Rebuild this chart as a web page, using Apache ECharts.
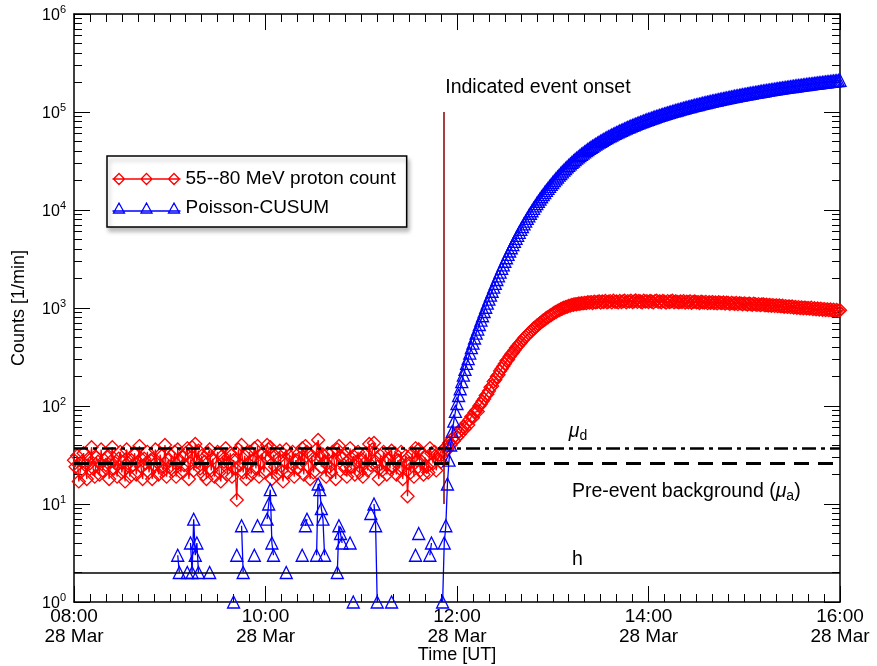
<!DOCTYPE html>
<html>
<head>
<meta charset="utf-8">
<script src="https://cdn.jsdelivr.net/npm/echarts@6/dist/echarts.min.js"></script>
<style>
html, body { margin: 0; padding: 0; background: #fff; }
#chart { width: 877px; height: 666px; }
</style>
</head>
<body>
<div id="chart"></div>
<script>
// one value per minute, 08:00 .. 16:00 (28 Mar)
const protonCounts = [
  28, 24, 31, 17, 22, 27, 33, 25, 18, 29, 26, 38, 23, 19, 30, 27, 20, 36, 22, 28,
  25, 30, 18, 27, 38, 23, 26, 19, 29, 34, 21, 27, 17, 36, 26, 19, 28, 25, 33, 20,
  27, 39, 24, 18, 29, 26, 34, 21, 28, 18, 25, 36, 27, 20, 32, 24, 22, 40, 19, 28,
  24, 31, 22, 34, 19, 36, 27, 21, 30, 25, 33, 37, 18, 26, 38, 22, 41, 27, 35, 23,
  31, 20, 27, 18, 33, 36, 22, 29, 19, 26, 34, 21, 17, 31, 27, 37, 20, 26, 33, 19,
  28, 23, 11, 36, 25, 40, 21, 31, 18, 26, 34, 20, 28, 37, 23, 39, 19, 27, 33, 21,
  30, 40, 36, 38, 18, 32, 24, 20, 29, 35, 22, 17, 27, 36, 21, 31, 24, 34, 19, 28,
  23, 33, 26, 37, 20, 39, 34, 24, 18, 31, 21, 28, 36, 45, 31, 24, 32, 27, 19, 33,
  24, 21, 34, 28, 18, 36, 39, 31, 29, 25, 23, 19, 28, 37, 24, 31, 20, 27, 34, 21,
  29, 19, 26, 33, 22, 41, 25, 36, 42, 27, 24, 18, 31, 22, 34, 27, 20, 29, 23, 35,
  24, 33, 20, 28, 23, 34, 18, 27, 31, 12, 26, 21, 33, 19, 37, 28, 36, 22, 27, 20,
  30, 24, 21, 37, 33, 26, 34, 22, 29, 32, 27, 35, 34, 38, 36, 42, 40, 46, 44, 50,
  48, 55, 52, 58, 61, 59, 67, 64, 73, 78, 76, 86, 90, 88, 100, 105, 112, 118, 128, 132,
  142, 155, 160, 178, 185, 200, 208, 228, 240, 255, 270, 290, 298, 320, 338, 352, 370, 392, 410, 428,
  445, 468, 490, 510, 528, 552, 570, 590, 618, 632, 660, 676, 700, 722, 745, 760, 790, 805, 830, 848,
  870, 895, 910, 935, 950, 972, 988, 1005, 1020, 1030, 1050, 1058, 1075, 1080, 1095, 1090, 1110, 1105, 1120, 1115,
  1130, 1120, 1145, 1135, 1150, 1125, 1160, 1140, 1155, 1170, 1135, 1165, 1150, 1180, 1145, 1160, 1175, 1140, 1185, 1155,
  1165, 1140, 1180, 1150, 1170, 1190, 1145, 1175, 1160, 1185, 1150, 1170, 1195, 1155, 1180, 1165, 1145, 1185, 1160, 1175,
  1150, 1180, 1165, 1140, 1175, 1190, 1155, 1170, 1145, 1180, 1160, 1135, 1175, 1150, 1165, 1185, 1145, 1170, 1155, 1140,
  1165, 1150, 1175, 1135, 1160, 1145, 1170, 1130, 1155, 1165, 1140, 1150, 1125, 1160, 1145, 1135, 1155, 1120, 1145, 1130,
  1150, 1125, 1140, 1115, 1145, 1130, 1120, 1140, 1110, 1135, 1125, 1100, 1130, 1115, 1105, 1125, 1095, 1120, 1110, 1090,
  1115, 1100, 1085, 1110, 1095, 1080, 1105, 1090, 1075, 1095, 1070, 1085, 1090, 1065, 1080, 1060, 1075, 1055, 1070, 1050,
  1065, 1045, 1060, 1040, 1055, 1030, 1045, 1025, 1040, 1020, 1035, 1010, 1025, 1005, 1020, 1000, 1015, 995, 1010, 990,
  1000, 985, 1005, 975, 995, 970, 990, 965, 985, 960, 975, 955, 970, 950, 965, 945, 960, 940, 955, 935,
  950
];

// Poisson-CUSUM statistic per minute (0 = nothing to draw on the log axis)
const cusumValues = [
  0, 0, 0, 0, 0, 0, 0, 0, 0, 0, 0, 0, 0, 0, 0, 0, 0, 0, 0, 0,
  0, 0, 0, 0, 0, 0, 0, 0, 0, 0, 0, 0, 0, 0, 0, 0, 0, 0, 0, 0,
  0, 0, 0, 0, 0, 0, 0, 0, 0, 0, 0, 0, 0, 0, 0, 0, 0, 0, 0, 0,
  0, 0, 0, 0, 0, 3, 2, 0, 0, 0, 0, 2, 0, 4, 2, 7, 3, 4, 2, 0,
  0, 0, 0, 0, 0, 2, 0, 0, 0, 0, 0, 0, 0, 0, 0, 0, 0, 0, 0, 0,
  1, 0, 3, 0, 0, 6, 2, 0, 0, 0, 0, 0, 0, 3, 0, 6, 0, 0, 0, 0,
  0, 7, 10, 14, 4, 3, 0, 0, 0, 0, 0, 0, 0, 2, 0, 0, 0, 0, 0, 0,
  0, 0, 0, 3, 0, 6, 7, 0, 0, 0, 0, 0, 3, 16, 14, 9, 7, 3, 0, 0,
  0, 0, 0, 0, 0, 2, 6, 5, 4, 0, 0, 0, 0, 4, 0, 1, 0, 0, 0, 0,
  0, 0, 0, 0, 0, 0, 8, 0, 10, 6, 1, 0, 0, 0, 0, 0, 0, 0, 0, 1,
  0, 0, 0, 0, 0, 0, 0, 0, 0, 0, 0, 0, 0, 0, 3, 0, 5, 0, 0, 0,
  0, 0, 0, 3, 4, 0, 0, 0, 0, 0, 0, 1, 4, 6, 16, 28, 40, 55, 70, 88,
  106, 128, 150, 177, 207, 236, 272, 305, 347, 394, 439, 494, 553, 610, 679, 753, 834, 921, 1018, 1119,
  1230, 1354, 1483, 1630, 1784, 1953, 2130, 2327, 2536, 2760, 2999, 3258, 3525, 3814, 4121, 4442, 4781, 5142, 5521, 5918,
  6332, 6769, 7228, 7707, 8204, 8725, 9264, 9823, 10410, 11011, 11640, 12285, 12954, 13645, 14359, 15088, 15847, 16621, 17420, 18237,
  19076, 19940, 20819, 21723, 22642, 23583, 24540, 25514, 26503, 27502, 28521, 29548, 30592, 31641, 32705, 33764, 34843, 35917, 37006, 38090,
  39189, 40278, 41392, 42496, 43615, 44709, 45838, 46947, 48071, 49210, 50314, 51448, 52567, 53716, 54830, 55959, 57103, 58212, 59366, 60490,
  61624, 62733, 63882, 65001, 66140, 67299, 68413, 69557, 70686, 71840, 72959, 74098, 75262, 76386, 77535, 78669, 79783, 80937, 82066, 83210,
  84329, 85478, 86612, 87721, 88865, 90024, 91148, 92287, 93401, 94550, 95679, 96783, 97927, 99046, 100180, 101334, 102448, 103587, 104711, 105820,
  106954, 108073, 109217, 110321, 111450, 112564, 113703, 114802, 115926, 117060, 118169, 119288, 120382, 121511, 122625, 123729, 124853, 125942, 127056, 128155,
  129274, 130368, 131477, 132561, 133675, 134774, 135863, 136972, 138051, 139155, 140249, 141318, 142417, 143501, 144575, 145669, 146733, 147822, 148901, 149960,
  151044, 152113, 153167, 154246, 155310, 156359, 157433, 158492, 159536, 160600, 161639, 162693, 163752, 164786, 165835, 166864, 167908, 168932, 169971, 170990,
  172024, 173038, 174067, 175076, 176100, 177099, 178113, 179107, 180116, 181105, 182109, 183088, 184082, 185056, 186045, 187014, 187998, 188962, 189941, 190900,
  191869, 192823, 193797, 194741, 195705, 196644, 197603, 198537, 199491, 200420, 201364, 202288, 203227, 204146, 205080, 205994, 206923, 207832, 208756, 209660,
  210579
];

const xTickMinutes = [0, 120, 240, 360, 480];
const xTickTimes = ['08:00', '10:00', '12:00', '14:00', '16:00'];
const xTickDate = '28 Mar';
const yDecades = [1, 10, 100, 1000, 10000, 100000, 1000000];
const yExponents = ['0', '1', '2', '3', '4', '5', '6'];
const yMinorSteps = [2, 3, 4, 5, 6, 7, 8, 9];

const thresholdH = 2;
const backgroundMuA = 26;
const detectionMuD = 37;
const onsetMinute = 232;
const onsetSpan = [10, 100000];

const RED = '#ff0000';
const BLUE = '#0000ff';
const FONT = '"Liberation Sans", Arial, Helvetica, sans-serif';

const yMinorValues = [];
yDecades.slice(0, -1).forEach(d => yMinorSteps.forEach(s => yMinorValues.push(s * d)));

const redIcon = 'path://M0,6H68M1,6L6.5,0.5L12,6L6.5,11.5ZM28.5,6L34,0.5L39.5,6L34,11.5ZM56,6L61.5,0.5L67,6L61.5,11.5Z';
const blueIcon = 'path://M0,9H68M1,11L6.5,1L12,11ZM28.5,11L34,1L39.5,11ZM56,11L61.5,1L67,11Z';

const chart = echarts.init(document.getElementById('chart'));

const baseX = {
  type: 'value', min: 0, max: 480, interval: 120,
  axisLine: { onZero: false, lineStyle: { color: '#000', width: 1.5 } },
  axisTick: { inside: true, length: 16, lineStyle: { color: '#000', width: 1 } },
  minorTick: { show: true, splitNumber: 12, length: 8, lineStyle: { color: '#000', width: 1 } },
  splitLine: { show: false },
  minorSplitLine: { show: false }
};

const baseY = {
  type: 'log', logBase: 10, min: 1, max: 1000000,
  axisLine: { onZero: false, lineStyle: { color: '#000', width: 1.5 } },
  splitLine: { show: false },
  axisLabel: { show: false }
};

const option = {
  animation: false,
  backgroundColor: '#fff',
  textStyle: { fontFamily: FONT },
  grid: { left: 74, right: 37, top: 14, bottom: 64, outerBoundsMode: 'none', containLabel: false },
  legend: {
    orient: 'vertical',
    left: 107, top: 156,
    itemWidth: 68, itemHeight: 12, itemGap: 9,
    padding: [13, 11, 9, 3],
    borderColor: '#000', borderWidth: 1.5,
    backgroundColor: '#fff',
    shadowColor: 'rgba(0,0,0,0.25)', shadowBlur: 4, shadowOffsetX: 2, shadowOffsetY: 4,
    selectedMode: false,
    textStyle: { fontSize: 19, color: '#000', fontFamily: FONT, lineHeight: 20 },
    data: [
      { name: '55--80 MeV proton count', icon: redIcon,
        itemStyle: { color: 'none', borderColor: RED, borderWidth: 1.3 } },
      { name: 'Poisson-CUSUM', icon: blueIcon,
        itemStyle: { color: 'none', borderColor: BLUE, borderWidth: 1.3 } }
    ]
  },
  xAxis: [
    Object.assign({}, baseX, {
      position: 'bottom',
      name: 'Time [UT]', nameLocation: 'middle', nameGap: 44, nameMoveOverlap: false,
      nameTextStyle: { fontSize: 18, color: '#000', fontFamily: FONT },
      axisLabel: {
        color: '#000', fontSize: 19, lineHeight: 20, margin: 5, fontFamily: FONT,
        formatter: v => xTickTimes[xTickMinutes.indexOf(v)] + '\n' + xTickDate
      }
    }),
    Object.assign({}, baseX, { position: 'top', axisLabel: { show: false } })
  ],
  yAxis: [
    Object.assign({}, baseY, {
      position: 'left',
      name: 'Counts [1/min]', nameLocation: 'middle', nameGap: 46, nameRotate: 90, nameMoveOverlap: false,
      nameTextStyle: { fontSize: 18, color: '#000', fontFamily: FONT },
      axisTick: { inside: true, length: 16, customValues: yDecades, lineStyle: { color: '#000', width: 1 } },
      axisLabel: {
        show: true, customValues: yDecades, margin: 8, color: '#000',
        formatter: v => '{b|10}{e|' + yExponents[Math.round(Math.log10(v))] + '}',
        rich: {
          b: { fontSize: 16, color: '#000', fontFamily: FONT, verticalAlign: 'bottom' },
          e: { fontSize: 11, color: '#000', fontFamily: FONT, verticalAlign: 'bottom', padding: [0, 0, 9, 0] }
        }
      }
    }),
    Object.assign({}, baseY, {
      position: 'left', axisLine: { show: false, onZero: false },
      axisTick: { inside: true, length: 8, customValues: yMinorValues, lineStyle: { color: '#000', width: 1 } }
    }),
    Object.assign({}, baseY, {
      position: 'right',
      axisTick: { inside: true, length: 16, customValues: yDecades, lineStyle: { color: '#000', width: 1 } }
    }),
    Object.assign({}, baseY, {
      position: 'right', axisLine: { show: false, onZero: false },
      axisTick: { inside: true, length: 8, customValues: yMinorValues, lineStyle: { color: '#000', width: 1 } }
    })
  ],
  series: [
    {
      name: '55--80 MeV proton count',
      type: 'line',
      xAxisIndex: 0, yAxisIndex: 0,
      data: protonCounts.map((v, i) => [i, v]),
      symbol: 'diamond', symbolSize: 13, showAllSymbol: true,
      lineStyle: { color: RED, width: 1.3 },
      itemStyle: { color: 'rgba(0,0,0,0)', borderColor: RED, borderWidth: 1.3 },
      emphasis: { disabled: true },
      z: 3,
      markLine: {
        silent: true, symbol: 'none', animation: false, z: 6,
        label: { show: false },
        emphasis: { disabled: true },
        data: [
          { yAxis: thresholdH, lineStyle: { color: '#000', width: 1.5, type: 'solid' } },
          { yAxis: backgroundMuA, lineStyle: { color: '#000', width: 3, type: [15, 9] } },
          { yAxis: detectionMuD, lineStyle: { color: '#000', width: 2.5, type: [14, 5, 4, 5] } },
          [
            { coord: [onsetMinute, onsetSpan[0]], lineStyle: { color: '#8b0000', width: 1.5, type: 'solid' } },
            { coord: [onsetMinute, onsetSpan[1]] }
          ]
        ]
      },
      markPoint: {
        silent: true, symbol: 'circle', symbolSize: 0, animation: false,
        label: {
          show: true, position: [0, 0], align: 'left', verticalAlign: 'middle',
          color: '#000', fontSize: 19.5, fontFamily: FONT,
          rich: {
            t: { fontSize: 19.5, color: '#000', fontFamily: FONT },
            i: { fontSize: 19.5, color: '#000', fontFamily: FONT, fontStyle: 'italic' },
            s: { fontSize: 14, color: '#000', fontFamily: FONT, padding: [10, 0, 0, 0] }
          }
        },
        data: [
          { coord: [onsetMinute, onsetSpan[1]], label: { formatter: '{t|Indicated event onset}', offset: [1, -24] } },
          { coord: [310, detectionMuD], label: { formatter: '{i|\u03bc}{s|d}', offset: [0, -17] } },
          { coord: [312, backgroundMuA], label: { formatter: '{t|Pre-event background (}{i|\u03bc}{s|a}{t|)}', offset: [0, 28] } },
          { coord: [312, thresholdH], label: { formatter: '{t|h}', offset: [0, -13] } }
        ]
      }
    },
    {
      name: 'Poisson-CUSUM',
      type: 'line',
      xAxisIndex: 0, yAxisIndex: 0,
      data: cusumValues.map((v, i) => [i, v > 0 ? v : '-']),
      connectNulls: false,
      symbol: 'triangle', symbolSize: 12, showAllSymbol: true,
      lineStyle: { color: BLUE, width: 1.3 },
      itemStyle: { color: 'rgba(0,0,0,0)', borderColor: BLUE, borderWidth: 1.3 },
      emphasis: { disabled: true },
      z: 4
    }
  ]
};

chart.setOption(option);
</script>
</body>
</html>
